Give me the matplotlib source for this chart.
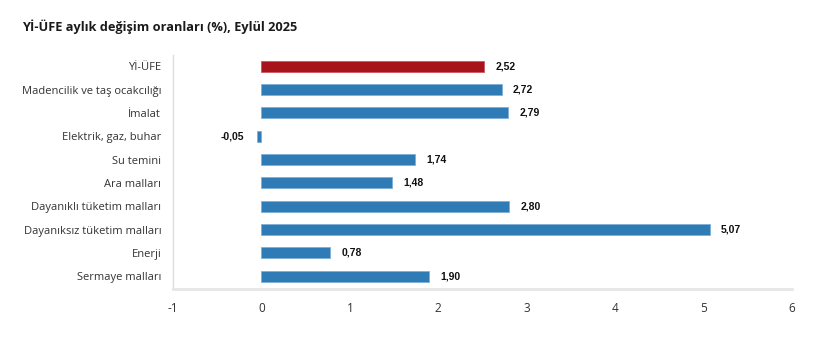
import matplotlib.pyplot as plt
from matplotlib.ticker import FixedLocator

# Yİ-ÜFE aylık değişim oranları, Eylül 2025
kategoriler = ['Yİ-ÜFE', 'Madencilik ve taş ocakcılığı', 'İmalat', 'Elektrik, gaz, buhar',
               'Su temini', 'Ara malları', 'Dayanıklı tüketim malları',
               'Dayanıksız tüketim malları', 'Enerji', 'Sermaye malları']
degerler = [2.52, 2.72, 2.79, -0.05, 1.74, 1.48, 2.80, 5.07, 0.78, 1.90]
x_ticks = [-1, 0, 1, 2, 3, 4, 5, 6]

renkler = ['#a8141b'] + ['#2f7bb6'] * (len(degerler) - 1)
kenar = ['#c85a5f'] + ['#7fb0d8'] * (len(degerler) - 1)

plt.rcParams['font.family'] = ['Open Sans', 'DejaVu Sans']

fig = plt.figure(figsize=(8.13, 3.56), dpi=100)
ax = fig.add_axes([0.2128, 0.188, 0.7614, 0.6575])

y = list(range(len(kategoriler)))
ax.barh(y, degerler, height=0.47, color=renkler, edgecolor=kenar, linewidth=0.6)

for yi, v in zip(y, degerler):
    etiket = f'{v:.2f}'.replace('.', ',')
    if v >= 0:
        ax.annotate(etiket, (v, yi), xytext=(8, 0), textcoords='offset points',
                    ha='left', va='center', fontsize=7.5, fontweight='bold',
                    family='Liberation Sans', color='#111111')
    else:
        ax.annotate(etiket, (v, yi), xytext=(-9, 0), textcoords='offset points',
                    ha='right', va='center', fontsize=7.5, fontweight='bold',
                    family='Liberation Sans', color='#111111')

ax.set_xlim(-1, 6)
ax.set_ylim(9.55, -0.48)
ax.xaxis.set_major_locator(FixedLocator(x_ticks))
ax.set_xticklabels([str(t) for t in x_ticks])
ax.set_yticks(y)
ax.set_yticklabels(kategoriler)
ax.tick_params(axis='x', length=0, labelsize=8.5, colors='#333333', pad=9)
ax.tick_params(axis='y', length=0, labelsize=8, colors='#333333', pad=8.5)

for s in ['top', 'right']:
    ax.spines[s].set_visible(False)
ax.spines['left'].set_color('#dddddd')
ax.spines['left'].set_linewidth(1)
ax.spines['bottom'].set_color('#e6e6e6')
ax.spines['bottom'].set_linewidth(2)

fig.text(0.027, 0.924, 'Yİ-ÜFE aylık değişim oranları (%), Eylül 2025',
         fontsize=9.2, fontweight='bold', color='#1a1a1a', va='center', ha='left')

fig.savefig('out.png', dpi=100)
